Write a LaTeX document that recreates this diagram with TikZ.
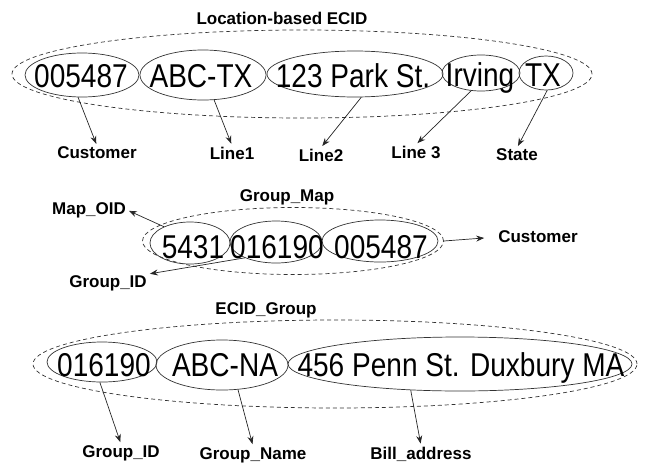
\documentclass[tikz,border=0pt]{standalone}
\usepackage{fontspec}
\usepackage{graphicx}
\setmainfont{Liberation Sans}
\usetikzlibrary{shapes.geometric,arrows.meta}
\newcommand\sqz[1]{\scalebox{0.85}[1]{#1}}
\tikzset{
  field/.style={ellipse, draw=black!80, line width=0.7pt, inner sep=0pt},
  grp/.style={ellipse, draw=black!80, dash pattern=on 4pt off 3pt, line width=0.7pt, inner sep=0pt},
  bigtxt/.style={font=\fontsize{33}{36}\selectfont, inner sep=0pt, anchor=base},
  lbl/.style={font=\bfseries\fontsize{17}{20}\selectfont, inner sep=1pt},
  ttl/.style={font=\bfseries\fontsize{17}{20}\selectfont, inner sep=1pt},
  conn/.style={-{Stealth[length=8pt,width=6pt]}, line width=0.7pt, draw=black!85, shorten >=2pt},
}
\begin{document}
\begin{tikzpicture}[x=1pt,y=-1pt]
\useasboundingbox (0,0) rectangle (645,466);
% ---------- top: Location-based ECID ----------
\node[ttl] (t1) at (282,18) {Location-based ECID};
\node[grp, minimum width=580pt, minimum height=88pt] (g1) at (302,74) {};
\node[field, minimum width=114pt, minimum height=44pt] (a1) at (82,75) {};
\node[field, minimum width=126pt, minimum height=50pt] (a2) at (203,75) {};
\node[field, minimum width=176pt, minimum height=46pt] (a3) at (355,74) {};
\node[field, minimum width=78pt, minimum height=36pt] (a4) at (481,73) {};
\node[field, minimum width=54pt, minimum height=34pt] (a5) at (546,73) {};
\node[bigtxt] (a1t) at (81,87) {\sqz{005487}};
\node[bigtxt] (a2t) at (201,87) {\sqz{ABC-TX}};
\node[bigtxt] (a3t) at (353,87) {\sqz{123 Park St.}};
\node[bigtxt] (a4t) at (480,86) {\sqz{Irving}};
\node[bigtxt] (a5t) at (543,86) {\sqz{TX}};
\node[lbl] (l1) at (97,153) {Customer};
\node[lbl] (l2) at (232,153) {Line1};
\node[lbl] (l3) at (321,155) {Line2};
\node[lbl] (l4) at (416,152) {Line 3};
\node[lbl] (l5) at (517,155) {State};
\draw[conn] (a1.-100) -- (l1.north);
\draw[conn] (a2.-66) -- (l2.north);
\draw[conn] (a3.-75) -- (l3.north);
\draw[conn] (a4.-119) -- (l4.north);
\draw[conn] (a5.-86) -- (l5.north);
% ---------- middle: Group_Map ----------
\node[ttl] (t2) at (287,197) {Group\_Map};
\node[grp, minimum width=301pt, minimum height=67pt] (g2) at (293,241) {};
\node[field, minimum width=80pt, minimum height=42pt] (b1) at (190,243) {};
\node[field, minimum width=92pt, minimum height=42pt] (b2) at (276,242) {};
\node[field, minimum width=116pt, minimum height=42pt] (b3) at (380,241) {};
\node[bigtxt] (b1t) at (193,258) {\sqz{5431}};
\node[bigtxt] (b2t) at (277,258) {\sqz{016190}};
\node[bigtxt] (b3t) at (381,258) {\sqz{005487}};
\node[lbl] (m1) at (89,210) {Map\_OID};
\node[lbl] (m2) at (108,283) {Group\_ID};
\node[lbl] (m3) at (538,237) {Customer};
\draw[conn] (b1.148) -- (m1.east);
\draw[conn] (b2.-153) -- (m2.north east);
\draw[conn, shorten >=13pt] (g2.east) -- (m3.west);
% ---------- bottom: ECID_Group ----------
\node[ttl] (t3) at (266,310) {ECID\_Group};
\node[grp, minimum width=604pt, minimum height=88pt] (g3) at (335,364) {};
\node[field, minimum width=110pt, minimum height=40pt] (c1) at (102,362) {};
\node[field, minimum width=132pt, minimum height=50pt] (c2) at (222,365) {};
\node[field, minimum width=344pt, minimum height=54pt] (c3) at (460,364) {};
\node[bigtxt] (c1t) at (104,376) {\sqz{016190}};
\node[bigtxt] (c2t) at (225,376) {\sqz{ABC-NA}};
\node[bigtxt] (c3t) at (461,376) {\sqz{456 Penn St. Duxbury MA}};
\node[lbl] (n1) at (121,453) {Group\_ID};
\node[lbl] (n2) at (253,455) {Group\_Name};
\node[lbl] (n3) at (421,454) {Bill\_address};
\draw[conn] (c1.-96) -- (n1.north);
\draw[conn] (c2.-57) -- (n2.north);
\draw[conn] (c3.-152) -- (n3.north);
\end{tikzpicture}
\end{document}
